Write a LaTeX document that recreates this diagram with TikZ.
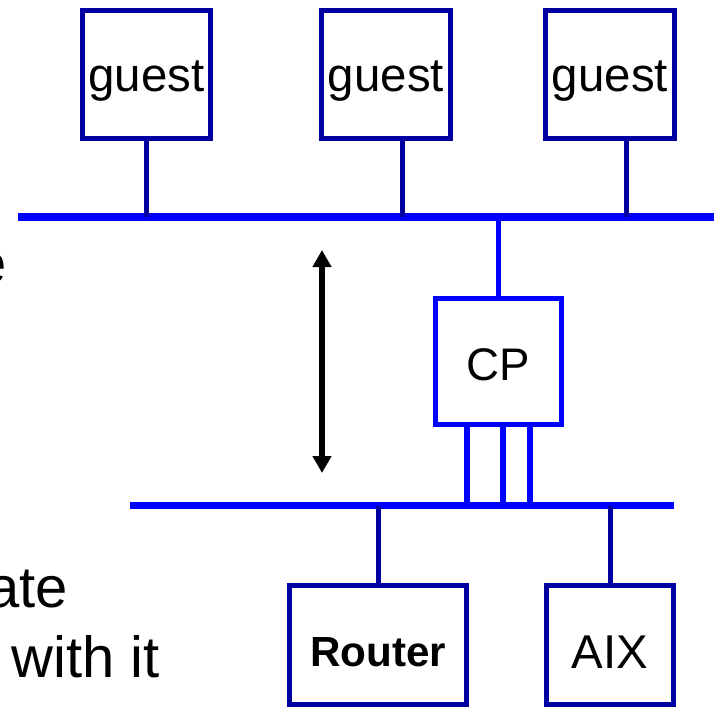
\documentclass[tikz,border=0pt]{standalone}
\usepackage{fontspec}
\setmainfont{Liberation Sans}
\usetikzlibrary{arrows.meta,calc,positioning}
\definecolor{dunkelblau}{RGB}{0,0,160}
\definecolor{hellblau}{RGB}{0,0,255}
\tikzset{
  kasten/.style={draw=dunkelblau,line width=0.1cm,inner sep=0pt,text depth=0pt,text height=0.7cm,minimum width=2.58cm,minimum height=2.58cm,font=\fontsize{27}{30}\selectfont},
  bus/.style={hellblau,line width=0.15cm},
  stich/.style={dunkelblau,line width=0.1cm},
  bein/.style={hellblau,line width=0.11cm},
  doppelpfeil/.style={black,line width=0.12cm,{Triangle[width=0.36cm,length=0.34cm]}-{Triangle[width=0.36cm,length=0.34cm]}},
  randtext/.style={anchor=base east,inner sep=0pt,font=\fontsize{33}{40}\selectfont}
}
\begin{document}
\begin{tikzpicture}[x=0.02cm,y=-0.02cm]
%Eine Einheit = ein Pixel vom 714x714 Bild, y nach unten
\clip (0,0) rectangle (714,714);
%Busse
\coordinate (busoben) at (18,217);
\coordinate (busobenR) at (714,217);
\coordinate (busunten) at (130,505.5);
\coordinate (busuntenR) at (674,505.5);
\draw[bus] (busoben) -- (busobenR);
\draw[bus] (busunten) -- (busuntenR);
%Gaeste
\foreach \nr/\xm/\dx in {1/146.5/0,2/386/16,3/610/16}{
  \node[kasten] (guest\nr) at (\xm,74.5) {guest};
  \coordinate (stich\nr) at ($(guest\nr.south)+(\dx,0)$);
  \draw[stich] (stich\nr) -- (stich\nr |- busoben);
}
%CP mit drei Leitungen nach unten
\node[kasten,draw=hellblau,minimum width=2.54cm,minimum height=2.54cm,text height=0.74cm,font=\fontsize{26}{30}\selectfont] (cp) at (498.5,361.5) {CP};
\draw[bein] (cp.north) -- (cp.north |- busoben);
\foreach \dx in {-31.5,4.5,31.5}{
  \coordinate (bein) at ($(cp.south)+(\dx,0)$);
  \draw[bein] (bein) -- (bein |- busunten);
}
%unten
\node[kasten,minimum width=3.56cm,minimum height=2.4cm,text height=0.84cm,font=\fontsize{24}{28}\selectfont\bfseries] (router) at (378,645) {Router};
\node[kasten,minimum width=2.56cm,minimum height=2.4cm,text height=0.92cm] (aix) at (610,645) {AIX};
\draw[stich] (router.north) -- (router.north |- busunten);
\draw[stich] (aix.north) -- (aix.north |- busunten);
%Pfeil zwischen den Bussen
\coordinate (pfeiloben) at (322,250);
\coordinate (pfeilunten) at (322,473);
\draw[doppelpfeil] (pfeiloben) -- (pfeilunten);
%abgeschnittener Text links
\node[randtext] (textE) at (7,283) {e};
\node[randtext] (textAte) at (68,607) {ate};
\node[randtext] (textWith) at (160,677) {with it};
\end{tikzpicture}
\end{document}
